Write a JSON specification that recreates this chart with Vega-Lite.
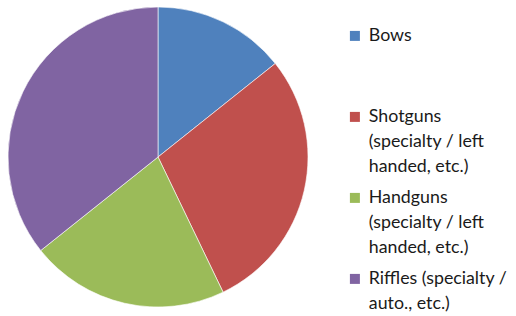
{
  "$schema": "https://vega.github.io/schema/vega-lite/v6.json",
  "width": 316,
  "height": 314,
  "padding": {"left": 0, "top": 0, "right": 200, "bottom": 2},
  "autosize": "none",
  "background": "white",
  "config": {"style": {"guide-label": {"lineHeight": 25}}},
  "data": {"values": [
    {"category": "Bows", "value": 2, "order": 1},
    {"category": "Shotguns (specialty / left handed, etc.)", "value": 4, "order": 2},
    {"category": "Handguns (specialty / left handed, etc.)", "value": 3, "order": 3},
    {"category": "Riffles (specialty / auto., etc.)", "value": 5, "order": 4}
  ]},
  "mark": {"type": "arc", "outerRadius": 150, "stroke": "#ffffff", "strokeWidth": 0.6},
  "encoding": {
    "theta": {"field": "value", "type": "quantitative", "stack": true},
    "order": {"field": "order", "type": "quantitative"},
    "color": {
      "field": "category",
      "type": "nominal",
      "sort": ["Bows", "Shotguns (specialty / left handed, etc.)", "Handguns (specialty / left handed, etc.)", "Riffles (specialty / auto., etc.)"],
      "scale": {
        "domain": ["Bows", "Shotguns (specialty / left handed, etc.)", "Handguns (specialty / left handed, etc.)", "Riffles (specialty / auto., etc.)"],
        "range": ["#4F81BD", "#C0504D", "#9BBB59", "#8064A2"]
      },
      "legend": {
        "title": null,
        "orient": "none",
        "legendX": 346,
        "legendY": 27,
        "gridAlign": "all",
        "symbolType": "square",
        "symbolSize": 100,
        "symbolStrokeWidth": 0,
        "labelFont": "Lato",
        "labelFontSize": 17.8,
        "labelColor": "#1a1a1a",
        "labelLimit": 200,
        "labelOffset": 5,
        "rowPadding": 12,
        "labelExpr": "datum.label == 'Bows' ? 'Bows' : datum.label == 'Riffles (specialty / auto., etc.)' ? ['Riffles (specialty /', 'auto., etc.)'] : [split(datum.label, ' (')[0], '(specialty / left', 'handed, etc.)']"
      }
    }
  }
}
